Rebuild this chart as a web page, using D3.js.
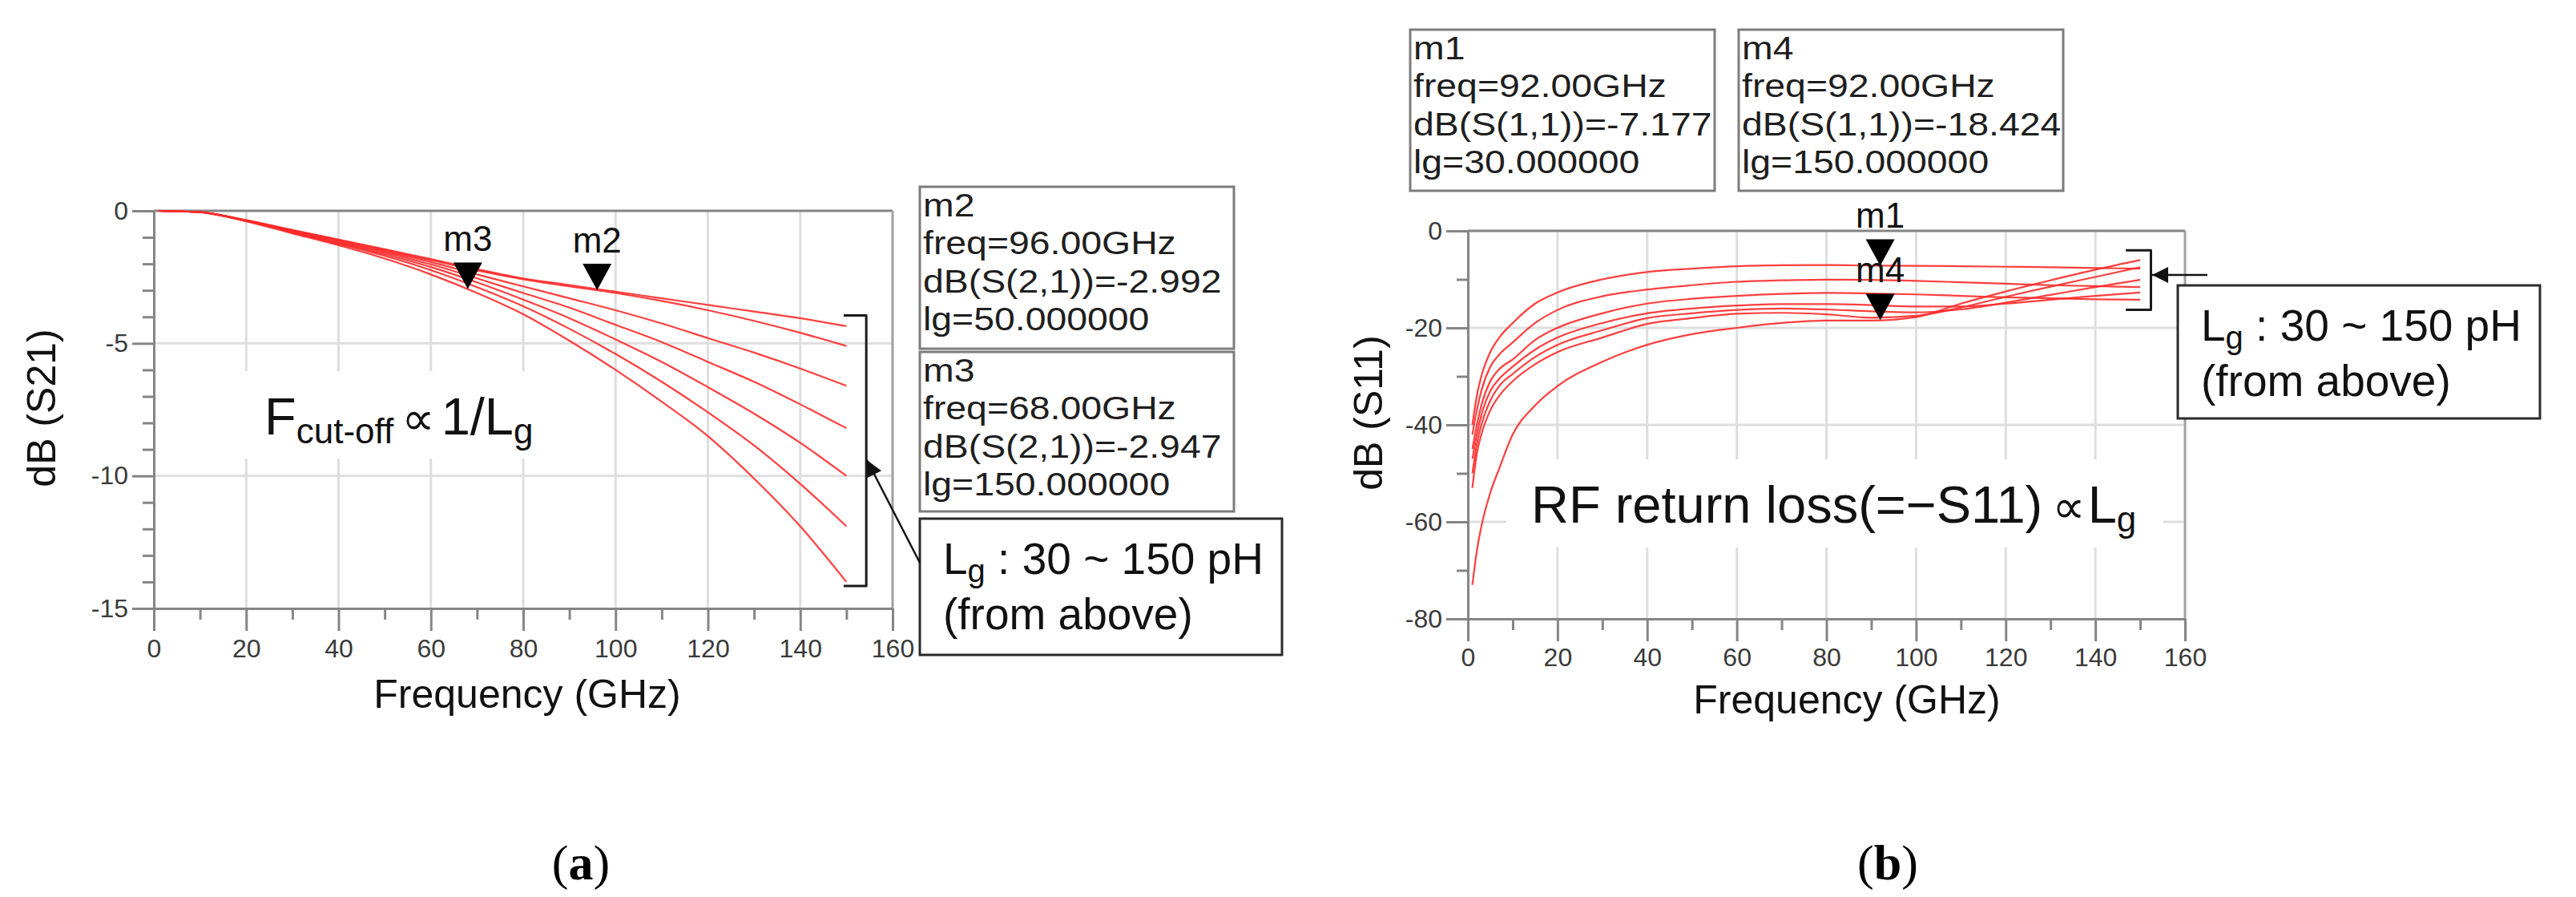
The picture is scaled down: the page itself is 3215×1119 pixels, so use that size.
<!DOCTYPE html>
<html>
<head>
<meta charset="utf-8">
<script src="https://cdn.jsdelivr.net/npm/d3@7"></script>
<style>
  body { margin: 0; background: #fff; }
  svg text { font-family: "Liberation Sans", Arial, "DejaVu Sans", sans-serif; }
</style>
</head>
<body>
<div id="chart"></div>
<script>
// ---- values ----
var lgValues = [30, 50, 70, 90, 110, 130, 150];   // pH, one trace each

// (a) dB(S21) vs frequency
var freqS21 = [1, 10, 20, 30, 40, 50, 60, 70, 80, 90, 100, 110, 120, 130, 140, 150];
var s21Lg30  = [0, -0.05, -0.35, -0.72, -1.08, -1.45, -1.82, -2.2, -2.55, -2.8, -3.05, -3.3, -3.55, -3.8, -4.05, -4.35];
var s21Lg50  = [0, -0.05, -0.36, -0.74, -1.1, -1.48, -1.86, -2.25, -2.58, -2.85, -3.1, -3.4, -3.75, -4.15, -4.6, -5.1];
var s21Lg70  = [0, -0.05, -0.37, -0.77, -1.14, -1.53, -1.93, -2.4, -2.85, -3.3, -3.75, -4.25, -4.8, -5.35, -5.95, -6.6];
var s21Lg90  = [0, -0.05, -0.37, -0.79, -1.18, -1.58, -2.02, -2.55, -3.1, -3.65, -4.3, -4.95, -5.7, -6.45, -7.3, -8.2];
var s21Lg110 = [0, -0.05, -0.38, -0.8, -1.21, -1.64, -2.12, -2.7, -3.35, -4.05, -4.85, -5.7, -6.65, -7.65, -8.75, -10.0];
var s21Lg130 = [0, -0.05, -0.38, -0.82, -1.25, -1.7, -2.24, -2.88, -3.6, -4.45, -5.4, -6.45, -7.6, -8.85, -10.3, -11.9];
var s21Lg150 = [0, -0.05, -0.4, -0.85, -1.3, -1.8, -2.4, -3.1, -3.9, -4.9, -6.0, -7.2, -8.5, -10.1, -11.9, -14.0];
var s21Series = [s21Lg30, s21Lg50, s21Lg70, s21Lg90, s21Lg110, s21Lg130, s21Lg150];

// (b) dB(S11) vs frequency
var freqS11 = [1, 2, 3, 5, 7, 10, 15, 20, 30, 40, 50, 60, 70, 80, 90, 100, 110, 120, 130, 140, 150];
var s11Lg30  = [-40, -34, -30, -25, -22, -19, -15, -12.7, -10, -8.5, -7.8, -7.3, -7.1, -7.05, -7.15, -7.2, -7.3, -7.4, -7.5, -7.65, -7.8];
var s11Lg50  = [-42, -37, -33, -28, -25.5, -23, -19, -16.3, -13.5, -12.1, -11.2, -10.5, -10.2, -10.05, -10.1, -10.3, -10.6, -10.9, -11.2, -11.4, -11.6];
var s11Lg70  = [-45, -40, -36, -31, -28.5, -26.5, -22.5, -20, -17, -15, -14, -13.4, -13, -12.8, -12.9, -13.1, -13.4, -13.7, -13.9, -14.1, -14.2];
var s11Lg90  = [-47, -42, -38, -33, -30.5, -28, -24.5, -22, -19, -17, -16, -15.4, -15.1, -15.1, -15.3, -15.6, -15.6, -15, -14.2, -13.4, -12.7];
var s11Lg110 = [-50, -44, -40, -35, -32, -29.5, -26, -23.5, -20.5, -18, -17, -16.3, -16, -16.2, -16.6, -16.8, -16.2, -14.8, -13.2, -11.6, -10.1];
var s11Lg130 = [-53, -46, -42, -37, -34, -31, -27.5, -25, -22, -19.2, -18, -17.1, -16.9, -17.2, -17.9, -17.5, -15.8, -13.6, -11.5, -9.5, -7.5];
var s11Lg150 = [-73, -66, -61, -54, -49, -42, -36, -32, -27, -23.5, -21.3, -20, -19, -18.5, -18.5, -17.8, -15, -12.5, -10.2, -8, -6.0];
var s11Series = [s11Lg30, s11Lg50, s11Lg70, s11Lg90, s11Lg110, s11Lg130, s11Lg150];

// ticks
var freqTicks = [0, 20, 40, 60, 80, 100, 120, 140, 160];
var freqMinor = [10, 30, 50, 70, 90, 110, 130, 150];
var s21Ticks = [0, -5, -10, -15];
var s21Minor = [-1, -2, -3, -4, -6, -7, -8, -9, -11, -12, -13, -14];
var s11Ticks = [0, -20, -40, -60, -80];
var s11Minor = [-10, -30, -50, -70];

// markers
var markersS21 = [
  { name: "m3", freq: 68, value: -2.947, lg: 150, trace: "dB(S(2,1))" },
  { name: "m2", freq: 96, value: -2.992, lg: 50, trace: "dB(S(2,1))" }
];
var markersS11 = [
  { name: "m1", freq: 92, value: -7.177, lg: 30, trace: "dB(S(1,1))" },
  { name: "m4", freq: 92, value: -18.424, lg: 150, trace: "dB(S(1,1))" }
];

var axisColor = "#858585";
var gridColor = "#dedede";
var traceColor = "#ff2a2a";

var svg = d3.select('#chart').append('svg')
  .attr('width', 3215)
  .attr('height', 1119)
  .style('background', '#fff');

var defs = svg.append('defs');
defs.append('marker')
  .attr('id', 'arrowhead')
  .attr('viewBox', '0 0 10 10')
  .attr('refX', 10).attr('refY', 5)
  .attr('markerUnits', 'userSpaceOnUse')
  .attr('markerWidth', 22).attr('markerHeight', 20)
  .attr('orient', 'auto')
  .append('path').attr('d', 'M0,0 L10,5 L0,10 z').attr('fill', '#111');

function fmtMarker(m) {
  return [m.name, "freq=" + m.freq.toFixed(2) + "GHz",
    m.trace + "=" + m.value.toFixed(3), "lg=" + m.lg.toFixed(6)];
}

function markerBox(x0, y0, w, h, m) {
  var g = svg.append('g');
  g.append('rect')
    .attr('x', x0).attr('y', y0).attr('width', w).attr('height', h)
    .attr('fill', '#fff').attr('stroke', '#7c7c7c').attr('stroke-width', 3);
  var t = g.append('g').attr('transform', 'translate(' + (x0 + 4) + ',' + y0 + ') scale(1.16,1)');
  fmtMarker(m).forEach(function (line, i) {
    t.append('text').attr('x', 0).attr('y', 37 + i * 47.5)
      .attr('font-size', 40).attr('fill', '#1e1e1e').text(line);
  });
}

function lgBox(x0, y0, w, h) {
  var g = svg.append('g');
  g.append('rect')
    .attr('x', x0).attr('y', y0).attr('width', w).attr('height', h)
    .attr('fill', '#fff').attr('stroke', '#2a2a2a').attr('stroke-width', 3);
  var t = g.append('text').attr('x', x0 + 29).attr('y', y0 + 69)
    .attr('font-size', 55).attr('fill', '#111');
  t.append('tspan').text('L');
  t.append('tspan').attr('font-size', 40).attr('dy', 10).text('g');
  t.append('tspan').attr('dy', -10).text(' : ' + lgValues[0] + ' ~ ' + lgValues[lgValues.length - 1] + ' pH');
  g.append('text').attr('x', x0 + 29).attr('y', y0 + 138)
    .attr('font-size', 55).attr('fill', '#111').text('(from above)');
}

function panel(o) {
  var x = d3.scaleLinear().domain([0, 160]).range(o.xRange);
  var y = d3.scaleLinear().domain(o.yDomain).range(o.yRange);
  var yTop = y(0), yBot = y(o.yDomain[0]);
  var g = svg.append('g');

  // grid
  g.append('g').selectAll('line')
    .data(freqTicks.filter(function (d) { return d > 0 && d < 160; }))
    .join('line')
    .attr('x1', function (d) { return x(d); }).attr('x2', function (d) { return x(d); })
    .attr('y1', yTop).attr('y2', yBot)
    .attr('stroke', gridColor).attr('stroke-width', 3);
  g.append('g').selectAll('line')
    .data(o.yTicks.filter(function (d) { return d < 0 && d > o.yDomain[0]; }))
    .join('line')
    .attr('x1', x(0)).attr('x2', x(160))
    .attr('y1', function (d) { return y(d); }).attr('y2', function (d) { return y(d); })
    .attr('stroke', gridColor).attr('stroke-width', 3);

  // white patch behind the in-plot note
  g.append('rect')
    .attr('x', o.note.x0).attr('y', o.note.y0)
    .attr('width', o.note.x1 - o.note.x0).attr('height', o.note.y1 - o.note.y0)
    .attr('fill', '#fff');
  o.note.draw(g);

  // frame top / right
  g.append('line').attr('x1', x(0)).attr('x2', x(160)).attr('y1', yTop).attr('y2', yTop)
    .attr('stroke', axisColor).attr('stroke-width', 3);
  g.append('line').attr('x1', x(160)).attr('x2', x(160)).attr('y1', yTop).attr('y2', yBot)
    .attr('stroke', '#a0a0a0').attr('stroke-width', 3);

  function styleAxis(sel) {
    sel.selectAll('path.domain').attr('stroke', axisColor).attr('stroke-width', 3);
    sel.selectAll('.tick line').attr('stroke', axisColor).attr('stroke-width', 3);
    sel.selectAll('.tick text').attr('font-size', 32).attr('fill', '#3a3a3a')
      .attr('font-family', '"Liberation Sans", Arial, sans-serif');
  }

  g.append('g').attr('transform', 'translate(' + x(0) + ',0)')
    .call(d3.axisLeft(y).tickValues(o.yMinor).tickSize(14).tickSizeOuter(0).tickFormat(''))
    .call(styleAxis);
  g.append('g').attr('transform', 'translate(' + x(0) + ',0)')
    .call(d3.axisLeft(y).tickValues(o.yTicks).tickSize(27).tickSizeOuter(0).tickPadding(5)
      .tickFormat(function (d) { return String(d); }))
    .call(styleAxis);
  g.append('g').attr('transform', 'translate(0,' + yBot + ')')
    .call(d3.axisBottom(x).tickValues(freqMinor).tickSize(14).tickSizeOuter(0).tickFormat(''))
    .call(styleAxis);
  g.append('g').attr('transform', 'translate(0,' + yBot + ')')
    .call(d3.axisBottom(x).tickValues(freqTicks).tickSize(28).tickSizeOuter(0).tickPadding(o.xPad)
      .tickFormat(function (d) { return String(d); }))
    .call(styleAxis);

  // traces
  var line = d3.line()
    .x(function (d, i) { return x(o.freq[i]); })
    .y(function (d) { return y(d); })
    .curve(d3.curveMonotoneX);
  g.append('g').selectAll('path')
    .data(o.series)
    .join('path')
    .attr('d', line)
    .attr('fill', 'none')
    .attr('stroke', traceColor)
    .attr('stroke-opacity', 0.9)
    .attr('stroke-width', 2.2);

  // markers
  var mk = g.append('g').selectAll('g').data(o.markers).join('g');
  mk.append('path')
    .attr('d', function (d) {
      var tx = x(d.freq), ty = y(d.value);
      return 'M' + (tx - 18) + ',' + (ty - 33) + 'L' + (tx + 18) + ',' + (ty - 33) + 'L' + tx + ',' + ty + 'Z';
    })
    .attr('fill', '#000');
  mk.append('text')
    .attr('x', function (d) { return x(d.freq); })
    .attr('y', function (d) { return y(d.value) - 47; })
    .attr('text-anchor', 'middle')
    .attr('font-size', 44).attr('fill', '#111')
    .text(function (d) { return d.name; });

  // bracket at the trace ends
  var b = o.bracket;
  g.append('path')
    .attr('d', 'M' + x(b.f0) + ',' + y(b.top) + 'L' + x(b.f1) + ',' + y(b.top) +
      'L' + x(b.f1) + ',' + y(b.bottom) + 'L' + x(b.f0) + ',' + y(b.bottom))
    .attr('fill', 'none').attr('stroke', '#1a1a1a').attr('stroke-width', 3)
    .attr('stroke-linejoin', 'round');

  // axis titles
  g.append('text')
    .attr('transform', 'translate(' + o.yTitle[0] + ',' + o.yTitle[1] + ') rotate(-90)')
    .attr('text-anchor', 'middle').attr('font-size', 50).attr('fill', '#111')
    .text(o.yLabel);
  g.append('text')
    .attr('x', o.xTitle[0]).attr('y', o.xTitle[1])
    .attr('text-anchor', 'middle').attr('font-size', 50).attr('fill', '#111')
    .text('Frequency (GHz)');

  return { x: x, y: y };
}

// ---- panel (a) ----
panel({
  xRange: [192, 1114], yDomain: [-15, 0], yRange: [759, 263],
  yTicks: s21Ticks, yMinor: s21Minor, xPad: 10,
  freq: freqS21, series: s21Series, markers: markersS21,
  bracket: { f0: 149.4, f1: 154.3, top: -3.95, bottom: -14.15 },
  yLabel: 'dB (S21)', yTitle: [69, 509], xTitle: [658, 883],
  note: {
    x0: 300, x1: 692, y0: 463, y1: 572,
    draw: function (g) {
      var t = g.append('text').attr('x', 330).attr('y', 542).attr('font-size', 65).attr('fill', '#111');
      t.append('tspan').text('F');
      t.append('tspan').attr('font-size', 44).attr('dy', 11).text('cut-off');
      t.append('tspan').attr('font-size', 58).attr('dy', -11).attr('dx', 10).text('\u221d');
      t.append('tspan').attr('dx', 8).text('1/L');
      t.append('tspan').attr('font-size', 44).attr('dy', 11).text('g');
    }
  }
});

// ---- panel (b) ----
panel({
  xRange: [1832, 2727], yDomain: [-80, 0], yRange: [772, 288],
  yTicks: s11Ticks, yMinor: s11Minor, xPad: 8,
  freq: freqS11, series: s11Series, markers: markersS11,
  bracket: { f0: 146.8, f1: 152.4, top: -4, bottom: -16.3 },
  yLabel: 'dB (S11)', yTitle: [1725, 515], xTitle: [2305, 890],
  note: {
    x0: 1880, x1: 2700, y0: 573, y1: 683,
    draw: function (g) {
      var t = g.append('text').attr('x', 1911).attr('y', 652).attr('font-size', 65).attr('fill', '#111');
      t.append('tspan').text('RF return loss(=\u2212S11)');
      t.append('tspan').attr('font-size', 58).attr('dx', 12).text('\u221d');
      t.append('tspan').attr('dx', 3).text('L');
      t.append('tspan').attr('font-size', 44).attr('dy', 11).text('g');
    }
  }
});

// ---- marker readouts ----
markerBox(1148, 233, 392, 202, markersS21[1]);
markerBox(1148, 439, 392, 199, markersS21[0]);
markerBox(1760, 37, 380, 201, markersS11[0]);
markerBox(2170, 37, 405, 201, markersS11[1]);

// ---- Lg range notes with arrows ----
lgBox(1148, 647, 452, 170);
lgBox(2718, 356, 452, 166);
svg.append('line').attr('x1', 1148).attr('y1', 702).attr('x2', 1082).attr('y2', 574)
  .attr('stroke', '#111').attr('stroke-width', 2.5).attr('marker-end', 'url(#arrowhead)');
svg.append('line').attr('x1', 2755).attr('y1', 343).attr('x2', 2686).attr('y2', 343)
  .attr('stroke', '#111').attr('stroke-width', 2.5).attr('marker-end', 'url(#arrowhead)');

// ---- sub-figure captions ----
[['a', 725], ['b', 2356]].forEach(function (c) {
  var t = svg.append('text').attr('x', c[1]).attr('y', 1097)
    .attr('text-anchor', 'middle').attr('font-size', 62).attr('fill', '#000')
    .style('font-family', '"Liberation Serif", "Times New Roman", serif');
  t.append('tspan').text('(');
  t.append('tspan').attr('font-weight', 'bold').text(c[0]);
  t.append('tspan').text(')');
});
</script>
</body>
</html>
